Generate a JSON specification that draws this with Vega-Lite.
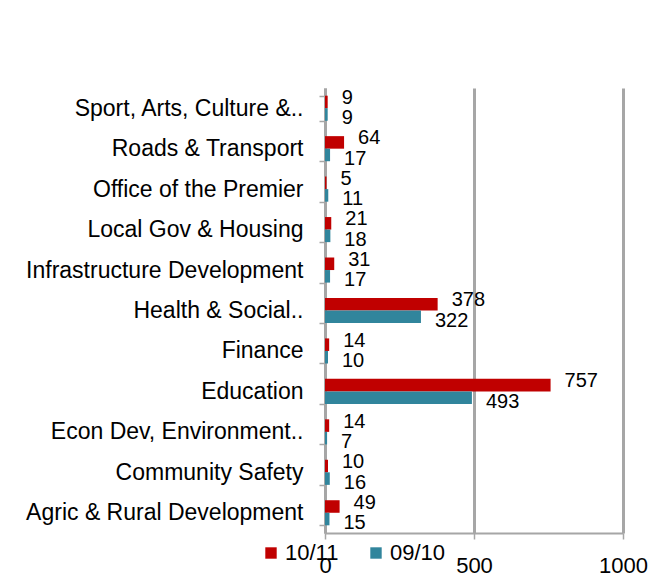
{
  "$schema": "https://vega.github.io/schema/vega-lite/v6.json",
  "autosize": {"type": "none"},
  "padding": {"left": 325, "top": 88, "right": 29, "bottom": 43},
  "width": 298,
  "height": 445,
  "background": "white",
  "config": {
    "font": "Liberation Sans",
    "view": {"stroke": null}
  },
  "data": {
    "values": [
      {"dept": "Sport, Arts, Culture &..", "year": "10/11", "value": 9},
      {"dept": "Sport, Arts, Culture &..", "year": "09/10", "value": 9},
      {"dept": "Roads & Transport", "year": "10/11", "value": 64},
      {"dept": "Roads & Transport", "year": "09/10", "value": 17},
      {"dept": "Office of the Premier", "year": "10/11", "value": 5},
      {"dept": "Office of the Premier", "year": "09/10", "value": 11},
      {"dept": "Local Gov & Housing", "year": "10/11", "value": 21},
      {"dept": "Local Gov & Housing", "year": "09/10", "value": 18},
      {"dept": "Infrastructure Development", "year": "10/11", "value": 31},
      {"dept": "Infrastructure Development", "year": "09/10", "value": 17},
      {"dept": "Health & Social..", "year": "10/11", "value": 378},
      {"dept": "Health & Social..", "year": "09/10", "value": 322},
      {"dept": "Finance", "year": "10/11", "value": 14},
      {"dept": "Finance", "year": "09/10", "value": 10},
      {"dept": "Education", "year": "10/11", "value": 757},
      {"dept": "Education", "year": "09/10", "value": 493},
      {"dept": "Econ Dev, Environment..", "year": "10/11", "value": 14},
      {"dept": "Econ Dev, Environment..", "year": "09/10", "value": 7},
      {"dept": "Community Safety", "year": "10/11", "value": 10},
      {"dept": "Community Safety", "year": "09/10", "value": 16},
      {"dept": "Agric & Rural Development", "year": "10/11", "value": 49},
      {"dept": "Agric & Rural Development", "year": "09/10", "value": 15}
    ]
  },
  "encoding": {
    "y": {
      "field": "dept",
      "type": "nominal",
      "sort": ["Sport, Arts, Culture &..", "Roads & Transport", "Office of the Premier", "Local Gov & Housing", "Infrastructure Development", "Health & Social..", "Finance", "Education", "Econ Dev, Environment..", "Community Safety", "Agric & Rural Development"],
      "scale": {"paddingInner": 0.38, "paddingOuter": 0.19},
      "axis": {
        "title": null,
        "labelFontSize": 23,
        "labelColor": "#000000",
        "labelPadding": 16,
        "labelLimit": 400,
        "domainColor": "#A6A6A6",
        "domainWidth": 3,
        "tickColor": "#A6A6A6",
        "tickSize": 6,
        "tickWidth": 1.5,
        "tickBand": "extent"
      }
    },
    "x": {
      "field": "value",
      "type": "quantitative",
      "scale": {"domain": [0, 1000], "nice": false},
      "axis": {
        "title": null,
        "values": [0, 500, 1000],
        "format": "d",
        "labelFontSize": 22,
        "labelColor": "#000000",
        "labelPadding": 16,
        "labelFlush": false,
        "domainColor": "#A6A6A6",
        "domainWidth": 2,
        "tickColor": "#A6A6A6",
        "tickSize": 6,
        "tickWidth": 1.5,
        "grid": true,
        "gridColor": "#A6A6A6",
        "gridWidth": 3
      }
    },
    "yOffset": {"field": "year", "type": "nominal", "sort": ["10/11", "09/10"]}
  },
  "layer": [
    {
      "mark": {"type": "bar", "stroke": null},
      "encoding": {
        "color": {
          "field": "year",
          "type": "nominal",
          "sort": ["10/11", "09/10"],
          "scale": {"domain": ["10/11", "09/10"], "range": ["#C00000", "#31859C"]},
          "legend": {
            "title": null,
            "orient": "none",
            "direction": "horizontal",
            "legendX": -65,
            "legendY": 454,
            "symbolType": "square",
            "symbolSize": 130,
            "symbolStrokeWidth": 0,
            "labelFontSize": 22,
            "labelColor": "#000000",
            "labelOffset": 3,
            "columnPadding": 26
          }
        }
      }
    },
    {
      "transform": [{"filter": "datum.year == '10/11'"}],
      "mark": {"type": "text", "align": "left", "baseline": "middle", "dx": 14, "dy": -4, "fontSize": 20, "color": "#000000"},
      "encoding": {
        "text": {"field": "value", "type": "quantitative"}
      }
    },
    {
      "transform": [{"filter": "datum.year == '09/10'"}],
      "mark": {"type": "text", "align": "left", "baseline": "middle", "dx": 14, "dy": 4, "fontSize": 20, "color": "#000000"},
      "encoding": {
        "text": {"field": "value", "type": "quantitative"}
      }
    }
  ]
}
